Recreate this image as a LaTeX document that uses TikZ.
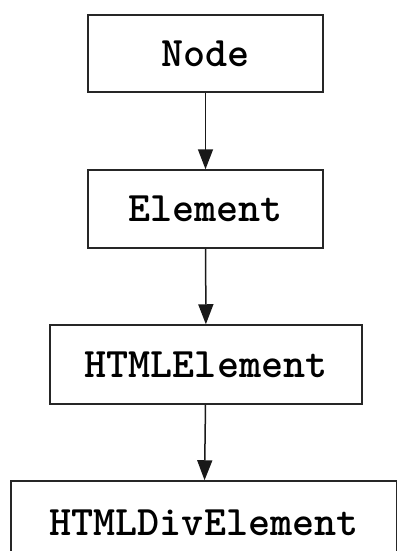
\documentclass[tikz,border=0pt]{standalone}
\usepackage{fontspec}
\usepackage{tikz}
\usetikzlibrary{arrows.meta}

\begin{document}
\begin{tikzpicture}
	[%
	class/.style ={rectangle,	draw=black!85,	fill=white,	line width=1.5pt,	inner sep=0pt,	font=\ttfamily\bfseries\fontsize{42pt}{42pt}\selectfont},%
	inherit/.style={draw=black!90,	line width=1.5pt,	-{Triangle[width=15pt,length=20pt]}},%
	]

	\useasboundingbox (0,0) rectangle (396pt,-551pt);

	\newcommand{\lx}{205.5pt}

	% nodes
	\node (node)		at (\lx,-53.5pt)	[class, minimum width=235pt, minimum height=77pt] {Node};
	\node (element)		at (\lx,-209pt)		[class, minimum width=235pt, minimum height=78pt] {Element};
	\node (htmlelement)	at (206pt,-364.5pt)	[class, minimum width=312pt, minimum height=79pt] {HTMLElement};
	\node (htmldiv)		at (204pt,-523pt)	[class, minimum width=386pt, minimum height=84pt] {HTMLDivElement};

	% interconnections
	\foreach \a/\b in {node/element, element/htmlelement, htmlelement/htmldiv}%
		\draw [inherit] (\a) -- (\b);

\end{tikzpicture}
\end{document}
